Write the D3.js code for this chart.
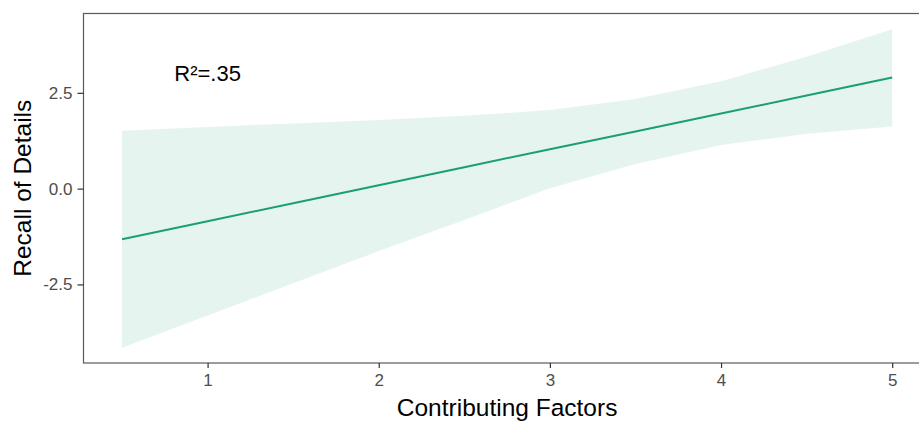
<!DOCTYPE html>
<html lang="en">
<head>
    <meta charset="UTF-8">
    <title>Recall of Details</title>
    <script src="https://d3js.org/d3.v7.min.js"></script>
    <style>
        body { margin: 0; background: #fff; }
        text { font-family: "Liberation Sans", Arial, sans-serif; }
    </style>
</head>
<body>
    <div id="my_dataviz"></div>

    <script>

    // values
    var factors = [0.5, 1, 1.5, 2, 2.5, 3, 3.5, 4, 4.5, 5]
    var fitted  = [-1.32, -0.85, -0.38, 0.09, 0.56, 1.03, 1.49, 1.96, 2.43, 2.90]
    var upper   = [1.51, 1.61, 1.70, 1.79, 1.90, 2.05, 2.34, 2.80, 3.44, 4.16]
    var lower   = [-4.15, -3.31, -2.47, -1.63, -0.82, 0.01, 0.64, 1.14, 1.43, 1.62]
    var xTicks = [1, 2, 3, 4, 5]
    var yTicks = [-2.5, 0, 2.5]
    var label = "R²=.35"
    var labelPos = [1, 3]

    var W = 919, H = 421
    var margin = {top: 13.5, left: 83.5, bottom: 58}

    var svg = d3.select("#my_dataviz")
      .append("svg")
        .attr("width", W)
        .attr("height", H)

    // ggplot style 5% expansion of the data range
    var x = d3.scaleLinear()
        .domain([0.275, 5.225])
        .range([margin.left, 930.7])
    var y = d3.scaleLinear()
        .domain([-4.55, 4.57])
        .range([H - margin.bottom, margin.top])

    var data = factors.map(function(f, i) {
        return {x: f, fit: fitted[i], lo: lower[i], hi: upper[i]}
    })

    // confidence band
    svg.append("path")
        .datum(data)
        .attr("fill", "#1b9e77")
        .attr("fill-opacity", 0.11)
        .attr("d", d3.area()
            .x(function(d) { return x(d.x) })
            .y0(function(d) { return y(d.lo) })
            .y1(function(d) { return y(d.hi) }))

    // fitted line
    svg.append("path")
        .datum(data)
        .attr("fill", "none")
        .attr("stroke", "#1b9e77")
        .attr("stroke-width", 2)
        .attr("d", d3.line()
            .x(function(d) { return x(d.x) })
            .y(function(d) { return y(d.fit) }))

    // panel border
    svg.append("rect")
        .attr("x", x.range()[0])
        .attr("y", y.range()[1])
        .attr("width", x.range()[1] - x.range()[0])
        .attr("height", y.range()[0] - y.range()[1])
        .attr("fill", "none")
        .attr("stroke", "#5a5a5a")
        .attr("stroke-width", 1.2)

    // axes
    var xAxis = svg.append("g")
        .attr("transform", "translate(0," + y.range()[0] + ")")
        .call(d3.axisBottom(x).tickValues(xTicks).tickSize(5).tickPadding(6)
            .tickFormat(d3.format("d")))
    var yAxis = svg.append("g")
        .attr("transform", "translate(" + x.range()[0] + ",0)")
        .call(d3.axisLeft(y).tickValues(yTicks).tickSize(6).tickPadding(5)
            .tickFormat(function(d) { return d.toFixed(1) }))   // plain hyphen like R

    ;[xAxis, yAxis].forEach(function(a) {
        a.select(".domain").remove()
        a.selectAll(".tick line").attr("stroke", "#333").attr("stroke-width", 1.2)
        a.selectAll(".tick text")
            .attr("fill", "#4d4d4d")
            .style("font-size", "17px")
            .style("font-family", "'Liberation Sans', Arial, sans-serif")
    })

    // axis titles
    svg.append("text")
        .attr("x", (x.range()[0] + x.range()[1]) / 2)
        .attr("y", 416)
        .attr("text-anchor", "middle")
        .style("font-size", "24.5px")
        .text("Contributing Factors")

    svg.append("text")
        .attr("transform", "translate(31," + ((y.range()[0] + y.range()[1]) / 2) + ") rotate(-90)")
        .attr("text-anchor", "middle")
        .style("font-size", "24.5px")
        .text("Recall of Details")

    // annotation
    svg.append("text")
        .attr("x", x(labelPos[0]))
        .attr("y", y(labelPos[1]))
        .attr("dy", "0.35em")
        .attr("text-anchor", "middle")
        .style("font-size", "22px")
        .text(label)

    </script>
</body>
</html>
